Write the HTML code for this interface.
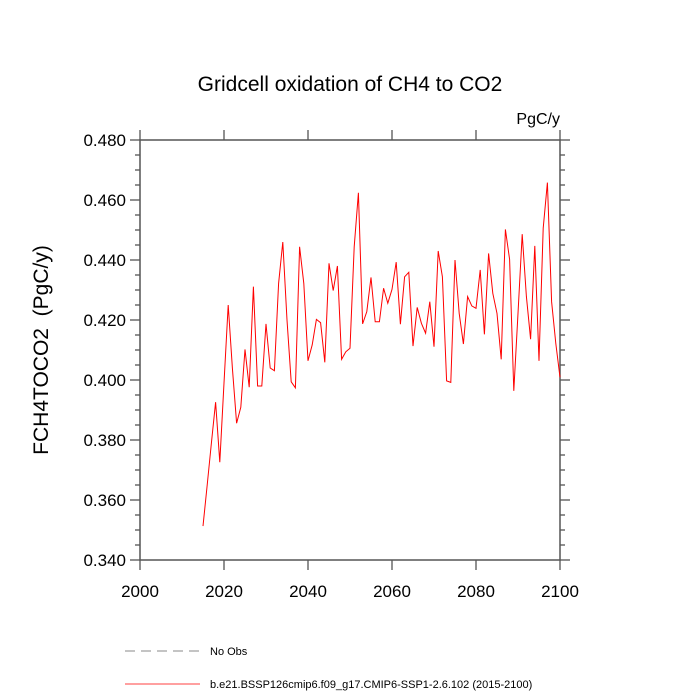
<!DOCTYPE html>
<html><head><meta charset="utf-8"><style>body{margin:0;background:#fff}svg{display:block;font-family:"Liberation Sans",Arial,sans-serif}text{white-space:pre}</style></head>
<body>
<svg id="c" width="700" height="700"></svg>
<script>
const years=[];for(let y=2015;y<=2100;y++)years.push(y);
const values=[0.3513,0.365,0.379,0.3926,0.3726,0.399,0.425,0.4039,0.3856,0.3909,0.4102,0.3976,0.4311,0.398,0.398,0.4187,0.404,0.4031,0.4322,0.446,0.42,0.3994,0.3974,0.4444,0.4322,0.4064,0.4117,0.4202,0.4191,0.4059,0.4389,0.4298,0.438,0.4069,0.4094,0.4106,0.4444,0.4624,0.4187,0.4228,0.4342,0.4194,0.4194,0.4306,0.4256,0.4302,0.4393,0.4186,0.4344,0.4359,0.4113,0.4242,0.4189,0.4156,0.4261,0.4111,0.443,0.4344,0.3997,0.3992,0.44,0.4222,0.412,0.4278,0.4247,0.4239,0.4367,0.4152,0.4422,0.4289,0.4222,0.4069,0.4502,0.4402,0.3964,0.4222,0.4486,0.4278,0.4136,0.4447,0.4064,0.4506,0.4658,0.4261,0.4122,0.4009];
const xTicks=[2000,2020,2040,2060,2080,2100];
const yTicks=[0.34,0.36,0.38,0.40,0.42,0.44,0.46,0.48];
const L=140,R=560,T=140,B=560;
const sx=v=>L+(v-2000)/100*(R-L);
const sy=v=>B-(v-0.34)/0.14*(B-T);
const svg=document.getElementById('c');const NS='http://www.w3.org/2000/svg';
function mk(t,a,txt){const e=document.createElementNS(NS,t);for(const k in a)e.setAttribute(k,a[k]);if(txt!=null)e.textContent=txt;svg.appendChild(e);return e;}
let e;
e=mk('text',{x:350,y:91,'font-size':21,'text-anchor':'middle'},'Gridcell oxidation of CH4 to CO2');


e=mk('text',{x:560,y:124,'font-size':16,'text-anchor':'end'},'PgC/y');


e=mk('text',{x:0,y:0,'font-size':21,'text-anchor':'middle',transform:'translate(48,350) rotate(-90)'},'FCH4TOCO2  (PgC/y)');


const ax='#555';
for(let v=0.34;v<=0.4801;v+=0.005){const y=sy(v);const maj=Math.abs(v*100-Math.round(v*50)*2)<0.01;const len=maj?10:5;
e=mk('line',{x1:L-len,x2:L,y1:y,y2:y,stroke:ax,'stroke-width':1.3});
e=mk('line',{x1:R,x2:R+len,y1:y,y2:y,stroke:ax,'stroke-width':1.3});}
yTicks.forEach(v=>{e=mk('text',{x:L-14,y:sy(v)+6,'font-size':17,'text-anchor':'end'},v.toFixed(3));});
xTicks.forEach(v=>{const x=sx(v);
e=mk('line',{x1:x,x2:x,y1:B,y2:B+10,stroke:ax,'stroke-width':1.3});
e=mk('line',{x1:x,x2:x,y1:T-10,y2:T,stroke:ax,'stroke-width':1.3});
e=mk('text',{x:x,y:B+37,'font-size':17,'text-anchor':'middle'},String(v));});
e=mk('rect',{x:L,y:T,width:R-L,height:B-T,fill:'none',stroke:ax,'stroke-width':1.5});


e=mk('polyline',{points:values.map((v,i)=>sx(years[i])+','+sy(v)).join(' '),fill:'none',stroke:'#f00','stroke-width':1});


e=mk('line',{x1:125,x2:200,y1:651,y2:651,stroke:'#888','stroke-dasharray':'10,6','stroke-width':1});


e=mk('text',{x:210,y:655,'font-size':11},'No Obs');


e=mk('line',{x1:125,x2:200,y1:684,y2:684,stroke:'#f00','stroke-width':0.8});


e=mk('text',{x:210,y:688,'font-size':11},'b.e21.BSSP126cmip6.f09_g17.CMIP6-SSP1-2.6.102 (2015-2100)');


</script>
</body></html>
